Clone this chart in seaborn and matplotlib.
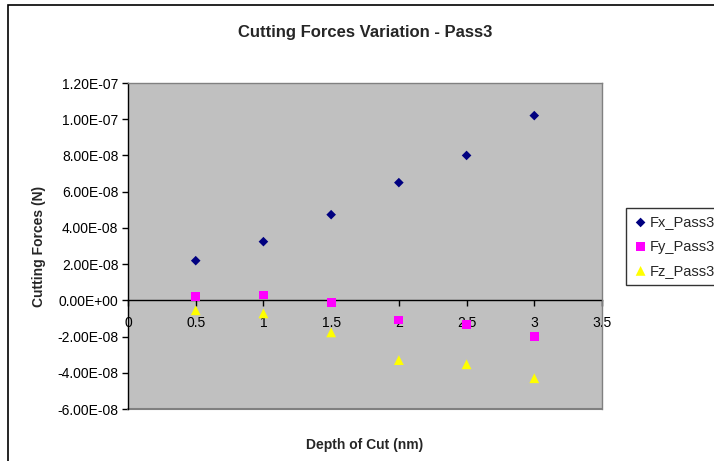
import numpy as np
import pandas as pd
import matplotlib
matplotlib.use("Agg")
import matplotlib.pyplot as plt
from matplotlib.patches import Rectangle
from matplotlib.ticker import FuncFormatter
import seaborn as sns

# depth of cut (nm) and forces (N)
depth = [0.5, 1.0, 1.5, 2.0, 2.5, 3.0]
fx = [2.19e-8, 3.24e-8, 4.73e-8, 6.5e-8, 8.0e-8, 1.02e-7]
fy = [0.22e-8, 0.29e-8, -0.11e-8, -1.09e-8, -1.32e-8, -1.98e-8]
fz = [-0.55e-8, -0.72e-8, -1.77e-8, -3.3e-8, -3.53e-8, -4.3e-8]
series_names = ["Fx_Pass3", "Fy_Pass3", "Fz_Pass3"]

df = pd.DataFrame({
    "depth": depth * 3,
    "force": fx + fy + fz,
    "series": np.repeat(series_names, len(depth)),
})

sns.set_style("white")
plt.rcParams["font.family"] = ["Liberation Sans", "DejaVu Sans"]

fig = plt.figure(figsize=(7.14, 4.61), dpi=100)
ax = fig.add_axes([128 / 714, 1 - 409 / 461, (602 - 128) / 714, (409 - 83) / 461])
ax.set_facecolor("#c0c0c0")

palette = {"Fx_Pass3": "#000080", "Fy_Pass3": "#ff00ff", "Fz_Pass3": "#ffff00"}
markers = {"Fx_Pass3": "D", "Fy_Pass3": "s", "Fz_Pass3": "^"}
sizes = {"Fx_Pass3": 24, "Fy_Pass3": 40, "Fz_Pass3": 50}
for name in series_names:
    sub = df[df["series"] == name]
    sns.scatterplot(data=sub, x="depth", y="force", ax=ax, color=palette[name],
                    marker=markers[name], s=sizes[name], edgecolor="none",
                    label=name, zorder=3, clip_on=False)

ax.set_xlim(0, 3.5)
ax.set_ylim(-6e-8, 1.2e-7)
ax.set_xticks(np.arange(0, 3.51, 0.5))
ax.set_yticks(np.arange(-6e-8, 1.21e-7, 2e-8))
ax.xaxis.set_major_formatter(FuncFormatter(lambda v, p: f"{v:g}"))
ax.yaxis.set_major_formatter(FuncFormatter(lambda v, p: f"{0 if abs(v) < 1e-12 else v:.2E}"))

for side in ["top", "right"]:
    ax.spines[side].set_color("#808080")
    ax.spines[side].set_linewidth(1)
ax.spines["left"].set_color("black")
ax.spines["left"].set_linewidth(1)
ax.spines["bottom"].set_position(("data", 0))
ax.spines["bottom"].set_color("black")
ax.spines["bottom"].set_linewidth(1)
ax.spines["bottom"].set_zorder(2)
# grey bottom edge of the plot area
ax.axhline(-6e-8, color="#808080", lw=1.5, clip_on=False)

ax.tick_params(axis="both", direction="out", length=4, width=1, color="black",
               labelsize=10, colors="black")
ax.tick_params(axis="x", pad=7.5, bottom=True)
ax.tick_params(axis="y", pad=3, left=True)

ax.set_xlabel("Depth of Cut (nm)", fontsize=10, fontweight="bold", labelpad=0)
ax.xaxis.set_label_coords(0.5, -0.09)
ax.set_ylabel("Cutting Forces (N)", fontsize=10, fontweight="bold", labelpad=8)
fig.text(0.5 * (128 + 602) / 714, 1 - 32 / 461, "Cutting Forces Variation - Pass3",
         ha="center", va="center", fontsize=12, fontweight="bold")

leg = ax.legend(loc="upper left", bbox_to_anchor=(626 / 714, 1 - 208 / 461),
                bbox_transform=fig.transFigure, frameon=True, fancybox=False,
                fontsize=10.5, borderpad=0.5, handletextpad=0.1, handlelength=1.0,
                labelspacing=0.7, borderaxespad=0)
leg.get_frame().set_edgecolor("black")
leg.get_frame().set_linewidth(1)

# chart-area border
fig.patches.append(Rectangle((8 / 714, -0.2), 1.2, 1.2 - 5 / 461, transform=fig.transFigure,
                             fill=False, edgecolor="black", lw=1.2))

fig.savefig("out.png", dpi=100)
